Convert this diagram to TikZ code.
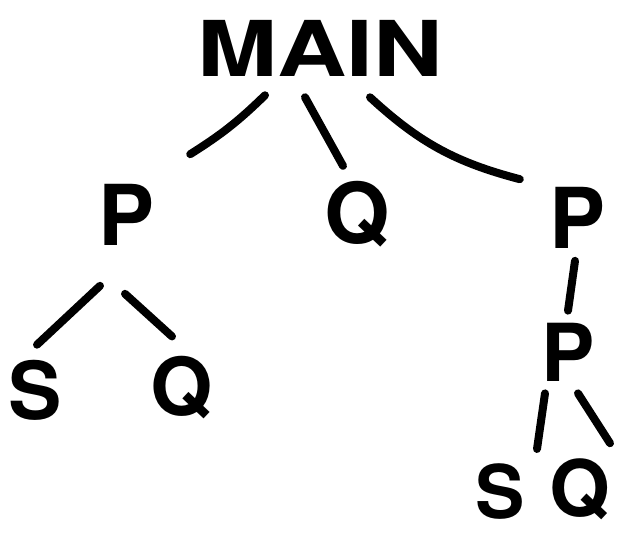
\documentclass[tikz,border=0pt]{standalone}
\usepackage{fontspec}
\usepackage{graphicx}
\setmainfont{TeX Gyre Heros}

\begin{document}
\begin{tikzpicture}[x=1pt,y=-1pt,
    lbl/.style={font=\fontsize{84}{84}\selectfont\bfseries, inner sep=0pt},
    twig/.style={line width=8pt, line cap=round}]
    \useasboundingbox[fill=white] (0,0) rectangle (617,539);

    % letters of the call tree
    \node[lbl, font=\fontsize{77}{77}\selectfont\bfseries] (main) at (320,48) {\scalebox{1.25}[1]{MAIN}};
    \node[lbl] (p1) at (127,215) {P};
    \node[lbl] (q1) at (357,214) {Q};
    \node[lbl] (p2) at (578,218) {P};
    \node[lbl, font=\fontsize{80}{80}\selectfont\bfseries] (s1) at (35,390) {S};
    \node[lbl, font=\fontsize{80}{80}\selectfont\bfseries] (q2) at (182,388) {Q};
    \node[lbl, font=\fontsize{80}{80}\selectfont\bfseries] (p3) at (568,352) {P};
    \node[lbl, font=\fontsize{74}{74}\selectfont\bfseries] (s2) at (500,492) {S};
    \node[lbl, font=\fontsize{78}{78}\selectfont\bfseries] (q3) at (580,489) {Q};

    % strokes between them
    \draw[twig] ([shift={(-55,19)}]main.south) to[bend left=6] ([shift={(35,-30)}]p1.north east);
    \draw[twig] ([shift={(-15,21)}]main.south) -- ([shift={(-14,-15)}]q1.north);
    \draw[twig] ([shift={(50,21)}]main.south) to[bend right=14] ([shift={(-30,-8)}]p2.north west);
    \draw[twig] ([shift={(-27,40)}]p1.south) -- ([shift={(2,-15)}]s1.north);
    \draw[twig] ([shift={(-2,48)}]p1.south) -- ([shift={(-10,-20)}]q2.north);
    \draw[twig] ([shift={(-3,12)}]p2.south) -- ([shift={(0,-12)}]p3.north);
    \draw[twig] ([shift={(-23,12)}]p3.south) -- ([shift={(37,-15)}]s2.north);
    \draw[twig] ([shift={(10,12)}]p3.south) -- ([shift={(30,-15)}]q3.north);
\end{tikzpicture}
\end{document}
